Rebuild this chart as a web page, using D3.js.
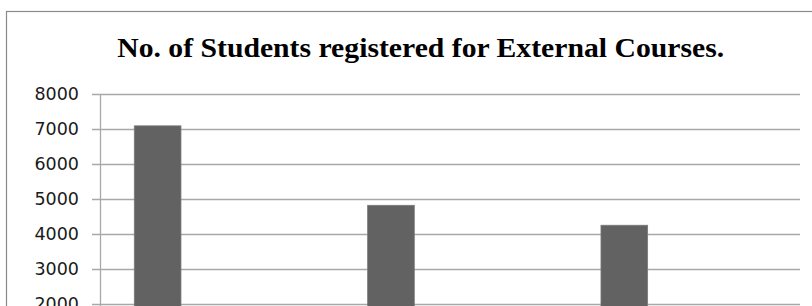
<!DOCTYPE html>
<html>
<head>
<meta charset="utf-8">
<script src="https://cdn.jsdelivr.net/npm/d3@7"></script>
<style>
  html, body { margin: 0; padding: 0; background: #fff; overflow: hidden; }
  svg { display: block; }
</style>
</head>
<body>
<svg id="chart" width="812" height="306"></svg>
<script>
// ---- data ----
const title = "No. of Students registered for External Courses.";
const categories = ["Course 1", "Course 2", "Course 3"];
const students = [7090, 4820, 4250];
const yTicks = [0, 1000, 2000, 3000, 4000, 5000, 6000, 7000, 8000];

// ---- layout ----
const W = 812, H = 306;
const plot = { left: 100, right: 800, top: 94, bottom: 374 };

const svg = d3.select("#chart");

// chart area border
svg.append("rect")
  .attr("x", 6.5).attr("y", 11.5)
  .attr("width", W + 20).attr("height", 420)
  .attr("fill", "#fff")
  .attr("stroke", "#8a8a8a")
  .attr("stroke-width", 1.2);

const y = d3.scaleLinear().domain([0, 8000]).range([plot.bottom, plot.top]);
const x = d3.scaleBand().domain(categories).range([plot.left, plot.right]).paddingInner(0).paddingOuter(0);

// gridlines
svg.append("g").selectAll("line").data(yTicks).join("line")
  .attr("x1", plot.left - 8).attr("x2", plot.right)
  .attr("y1", d => Math.round(y(d)) + 0.5).attr("y2", d => Math.round(y(d)) + 0.5)
  .attr("stroke", "#a8a8a8").attr("stroke-width", 1.3);

// y axis line
svg.append("line")
  .attr("x1", plot.left + 0.5).attr("x2", plot.left + 0.5)
  .attr("y1", plot.top).attr("y2", plot.bottom)
  .attr("stroke", "#a8a8a8").attr("stroke-width", 1.3);

// tick labels
svg.append("g").selectAll("text").data(yTicks).join("text")
  .attr("x", 79).attr("y", d => y(d))
  .attr("dy", "0.36em")
  .attr("text-anchor", "end")
  .attr("font-family", "DejaVu Sans")
  .attr("font-size", 17.5)
  .attr("fill", "#1a1a1a")
  .text(d => d);

// bars (clustered-column style: bar sits at left part of each category band)
const barW = x.bandwidth() * 0.2;
const barOff = x.bandwidth() * 0.147;
svg.append("g").selectAll("rect").data(categories).join("rect")
  .attr("x", (c) => x(c) + barOff)
  .attr("y", (c, i) => y(students[i]))
  .attr("width", barW)
  .attr("height", (c, i) => y(0) - y(students[i]))
  .attr("fill", "#626262")
  .attr("stroke", "#7a7a7a")
  .attr("stroke-width", 0.8);

// title
svg.append("text")
  .attr("x", 420.7).attr("y", 57)
  .attr("text-anchor", "middle")
  .attr("font-family", "Liberation Serif")
  .attr("font-weight", "bold")
  .attr("font-size", 27)
  .attr("textLength", 607)
  .attr("lengthAdjust", "spacingAndGlyphs")
  .attr("fill", "#000")
  .text(title);
</script>
</body>
</html>
